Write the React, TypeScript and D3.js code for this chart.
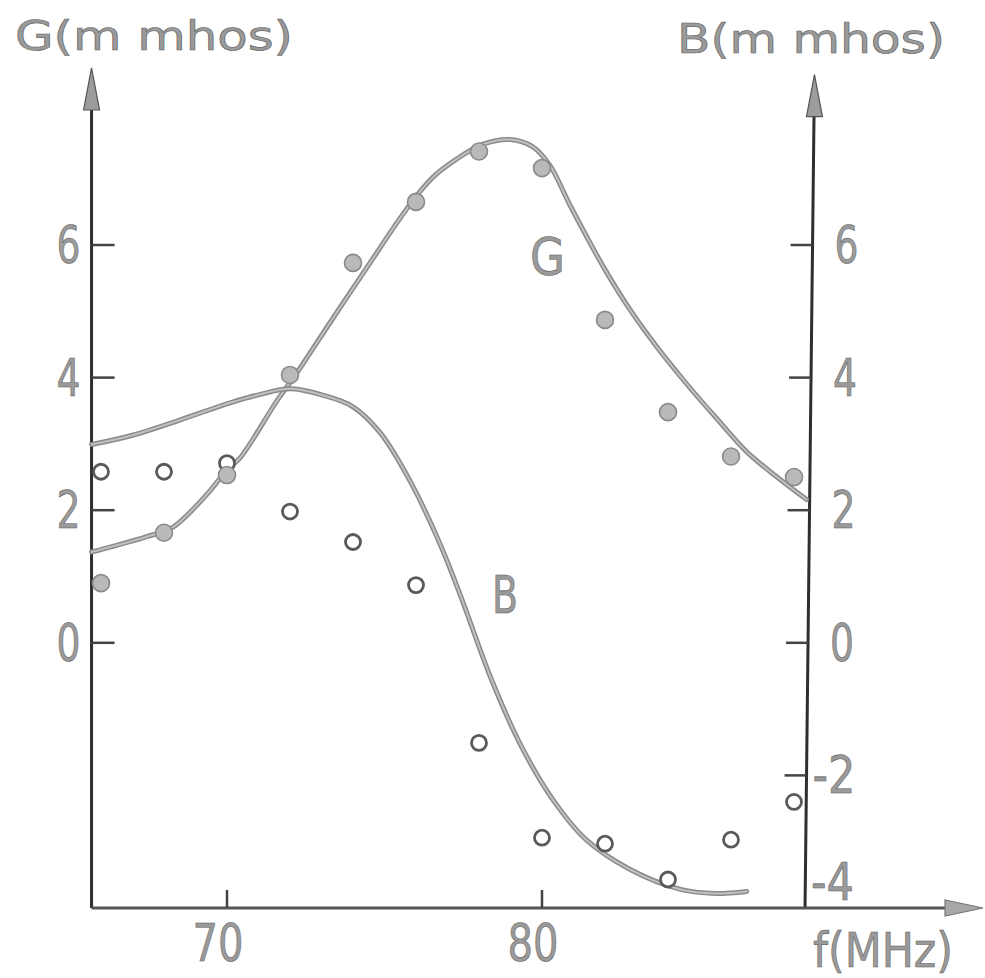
import React from "react";
import * as d3 from "d3";

// ---- data ----
const freqs = [66, 68, 70, 72, 74, 76, 78, 80, 82, 84, 86, 88];
const gPoints = [0.9, 1.66, 2.53, 4.04, 5.73, 6.65, 7.41, 7.16, 4.87, 3.48, 2.81, 2.5];
const bPoints = [2.58, 2.58, 2.71, 1.98, 1.52, 0.87, -1.51, -2.94, -3.03, -3.57, -2.97, -2.4];

const gCurveF = [65.7, 66.5, 67.45, 68.3, 69.4, 70.0, 70.4, 71.6, 72.16, 73.3, 74.54, 75.3, 76.03, 76.6, 77.3, 78.13, 78.98, 79.71, 80.25, 80.89, 81.95, 82.8, 83.65, 84.6, 85.55, 86.5, 87.46, 88.4];
const gCurveV = [1.37, 1.47, 1.6, 1.75, 2.26, 2.61, 2.78, 3.66, 4.03, 4.85, 5.73, 6.27, 6.75, 7.05, 7.3, 7.52, 7.59, 7.48, 7.2, 6.6, 5.67, 5.02, 4.46, 3.9, 3.38, 2.88, 2.5, 2.16];

const bCurveF = [65.7, 67, 68.5, 70.1, 71.0, 72.0, 73.0, 74.0, 74.86, 75.8, 76.8, 77.5, 78.35, 79.3, 80.35, 81.4, 82.8, 84.4, 85.5, 86.5];
const bCurveV = [2.99, 3.13, 3.36, 3.62, 3.74, 3.83, 3.74, 3.56, 3.17, 2.45, 1.45, 0.6, -0.5, -1.52, -2.37, -2.97, -3.42, -3.72, -3.78, -3.75];

const xTicks = [70, 80];
const leftTicks = [6, 4, 2, 0];
const rightTicks = [6, 4, 2, 0, -2];
const rightLabels = ["6", "4", "2", "0", "-2", "-4"];
const rightLabelValues = [6, 4, 2, 0, -2, -4];

const W = 985;
const H = 978;

export default function App() {
  const x = d3.scaleLinear().domain([70, 80]).range([227, 542]);
  const y = d3.scaleLinear().domain([-4, 6]).range([908, 245]);

  const fLeft = 65.7;
  const xLeft = x(fLeft);
  const xRightBottom = x(88.35);
  const xRightTop = x(88.65);
  const yBottom = y(-4);
  const yTop = y(8.67);
  const yTopR = y(8.57);
  const xArrowEnd = x(94.0);

  const rightAxisX = (yy: number) =>
    xRightBottom + ((yBottom - yy) / (yBottom - yTopR)) * (xRightTop - xRightBottom);

  const line = d3
    .line<[number, number]>()
    .x((d) => x(d[0]))
    .y((d) => y(d[1]))
    .curve(d3.curveCatmullRom.alpha(0.5));

  const gPath = line(gCurveF.map((f, i) => [f, gCurveV[i]] as [number, number])) || "";
  const bPath = line(bCurveF.map((f, i) => [f, bCurveV[i]] as [number, number])) || "";

  const textStyle = {
    fontFamily: "'DejaVu Sans', 'Liberation Sans', sans-serif",
    fill: "#9a9a9a",
    stroke: "#606060",
    strokeWidth: 0.6,
  } as React.CSSProperties;

  const axisColor = "#2e2e2e";

  return (
    <svg
      width={W}
      height={H}
      viewBox={`0 0 ${W} ${H}`}
      style={{ position: "absolute", left: 0, top: 0, background: "#fff" }}
    >
      <rect width={W} height={H} fill="#ffffff" />

      {/* titles */}
      <text x={15} y={50} fontSize={41} textLength={278} lengthAdjust="spacingAndGlyphs" style={textStyle}>
        G(m mhos)
      </text>
      <text x={677} y={53} fontSize={41} textLength={268} lengthAdjust="spacingAndGlyphs" style={textStyle}>
        B(m mhos)
      </text>

      {/* left axis */}
      <line x1={xLeft} y1={yBottom} x2={xLeft} y2={yTop + 38} stroke={axisColor} strokeWidth={3} />
      <polygon
        points={`${xLeft},${yTop} ${xLeft - 8},${yTop + 42} ${xLeft + 8},${yTop + 42}`}
        fill="#9c9c9c"
        stroke="#555"
        strokeWidth={1.2}
      />
      {leftTicks.map((t) => (
        <g key={"lt" + t}>
          <line x1={xLeft} x2={xLeft + 23} y1={y(t)} y2={y(t)} stroke="#444" strokeWidth={2.5} />
          <text
            x={xLeft - 23}
            y={y(t) + 18}
            fontSize={51}
            textAnchor="middle"
            textLength={24}
            lengthAdjust="spacingAndGlyphs"
            style={textStyle}
          >
            {String(t)}
          </text>
        </g>
      ))}

      {/* right axis */}
      <line
        x1={xRightBottom}
        y1={yBottom}
        x2={rightAxisX(yTopR + 38)}
        y2={yTopR + 38}
        stroke={axisColor}
        strokeWidth={3}
      />
      <polygon
        points={`${xRightTop},${yTopR} ${xRightTop - 8},${yTopR + 42} ${xRightTop + 8},${yTopR + 42}`}
        fill="#9c9c9c"
        stroke="#555"
        strokeWidth={1.2}
      />
      {rightTicks.map((t) => (
        <line
          key={"rt" + t}
          x1={rightAxisX(y(t)) - 22}
          x2={rightAxisX(y(t))}
          y1={y(t)}
          y2={y(t)}
          stroke="#444"
          strokeWidth={2.5}
        />
      ))}
      {rightLabels.map((lab, i) => {
        const v = rightLabelValues[i];
        const neg = v < 0;
        const yy = v === -4 ? y(v) - 8 : y(v) + 18;
        return (
          <text
            key={"rl" + lab}
            x={neg ? rightAxisX(y(v)) + 6 : rightAxisX(y(v)) + 34}
            y={yy}
            fontSize={51}
            textAnchor={neg ? "start" : "middle"}
            textLength={neg ? 43 : 24}
            lengthAdjust="spacingAndGlyphs"
            style={textStyle}
          >
            {lab}
          </text>
        );
      })}

      {/* bottom axis */}
      <line x1={xLeft} y1={yBottom} x2={xArrowEnd - 36} y2={yBottom} stroke="#555" strokeWidth={2.8} />
      <polygon
        points={`${xArrowEnd},${yBottom} ${xArrowEnd - 38},${yBottom - 8} ${xArrowEnd - 38},${yBottom + 8}`}
        fill="#a8a8a8"
        stroke="#777"
        strokeWidth={1.2}
      />
      {xTicks.map((t) => (
        <g key={"xt" + t}>
          <line x1={x(t)} x2={x(t)} y1={yBottom} y2={yBottom - 18} stroke="#444" strokeWidth={2.5} />
          <text
            x={x(t) - 9}
            y={961}
            fontSize={51}
            textAnchor="middle"
            textLength={51}
            lengthAdjust="spacingAndGlyphs"
            style={textStyle}
          >
            {String(t)}
          </text>
        </g>
      ))}
      <text x={813} y={967} fontSize={48} textLength={140} lengthAdjust="spacingAndGlyphs" style={textStyle}>
        f(MHz)
      </text>

      {/* curves */}
      <path d={gPath} fill="none" stroke="#8a8a8a" strokeWidth={5} strokeLinecap="round" />
      <path d={gPath} fill="none" stroke="#c0c0c0" strokeWidth={2} strokeLinecap="round" />
      <path d={bPath} fill="none" stroke="#8a8a8a" strokeWidth={5} strokeLinecap="round" />
      <path d={bPath} fill="none" stroke="#c0c0c0" strokeWidth={2} strokeLinecap="round" />

      {/* curve labels */}
      <text x={530} y={275} fontSize={51} textLength={35} lengthAdjust="spacingAndGlyphs" style={textStyle}>
        G
      </text>
      <text x={492} y={613} fontSize={51} textLength={26} lengthAdjust="spacingAndGlyphs" style={textStyle}>
        B
      </text>

      {/* B data: open circles */}
      {freqs.map((f, i) => (
        <circle key={"b" + f} cx={x(f)} cy={y(bPoints[i])} r={7.5} fill="#fff" stroke="#5a5a5a" strokeWidth={2.8} />
      ))}
      {/* G data: filled circles */}
      {freqs.map((f, i) => (
        <circle key={"g" + f} cx={x(f)} cy={y(gPoints[i])} r={8.5} fill="#b9b9b9" stroke="#8a8a8a" strokeWidth={1.6} />
      ))}
    </svg>
  );
}
